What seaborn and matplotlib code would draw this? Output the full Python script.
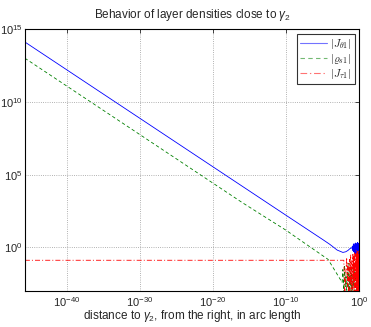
import pandas as pd
import seaborn as sns
import matplotlib.pyplot as plt
from matplotlib.lines import Line2D
from matplotlib.ticker import NullLocator

# |J_theta1|  (blue, solid)
x_j_theta = [1.8e-46, 1e-10, 1e-5, 1e-4, 1e-3, 6e-3, 1.5e-2, 3e-2, 6e-2, 0.09,
             0.10, 0.12, 0.14, 0.16, 0.18, 0.20, 0.23, 0.26, 0.29, 0.32, 0.35,
             0.38, 0.41, 0.44, 0.47, 0.50, 0.53, 0.56, 0.59, 0.62, 0.65, 0.68,
             0.71, 0.74, 0.77, 0.80, 0.83, 0.86, 0.89, 0.92, 0.95, 0.97, 0.99]
y_j_theta = [1.3e14, 160, 3.5, 1.6, 0.65, 0.45, 0.5, 0.62, 0.85, 0.9,
             0.9, 1.2, 0.6, 1.5, 0.5, 1.8, 0.4, 1.3, 0.7, 2.0, 0.35,
             1.6, 0.5, 1.1, 0.3, 1.9, 0.6, 1.4, 0.4, 2.2, 0.5, 0.9,
             1.7, 0.3, 1.2, 0.8, 1.9, 0.45, 1.5, 0.6, 1.1, 0.7, 0.9]

# |rho_s1|  (green, dashed)
x_rho_s = [1.8e-46, 1e-16, 1e-10, 1e-8, 5.6e-5, 1e-3, 4.7e-3,
           0.006, 0.008, 0.01, 0.013, 0.016, 0.02, 0.025, 0.03, 0.04, 0.05,
           0.06, 0.08, 0.1, 0.12, 0.15, 0.18, 0.22, 0.26, 0.3, 0.4, 0.5,
           0.6, 0.7, 0.8, 0.9, 0.97]
y_rho_s = [1e13, 1.2e3, 15, 3.0, 0.15, 0.014, 3.9e-3,
           0.03, 8e-4, 0.06, 2e-3, 0.01, 5e-4, 0.04, 1.5e-3, 0.08, 6e-4,
           0.02, 1e-3, 0.05, 4e-4, 0.012, 2e-3, 0.03, 6e-4, 0.01, 3e-3, 5e-4,
           0.02, 8e-4, 0.01, 6e-4, 4e-3]

# |J_tau1|  (red, dash-dot)
x_j_tau = [1.8e-46, 8e-3, 1.1e-2, 1.5e-2, 2e-2, 2.5e-2, 0.03, 0.04, 0.05,
           0.06, 0.07, 0.08, 0.1, 0.12, 0.14, 0.16, 0.18, 0.2, 0.23, 0.26,
           0.29, 0.32, 0.35, 0.38, 0.41, 0.44, 0.47, 0.5, 0.54, 0.58, 0.62,
           0.66, 0.7, 0.74, 0.78, 0.82, 0.86, 0.9, 0.93, 0.96, 0.98, 0.995]
y_j_tau = [0.13, 0.13, 5e-4, 0.02, 0.2, 2e-3, 0.08, 6e-4, 0.15,
           3e-3, 0.3, 1e-3, 0.12, 5e-4, 0.4, 4e-3, 0.25, 8e-4, 0.5, 2e-3,
           0.15, 5e-4, 0.35, 6e-3, 0.6, 1e-3, 0.2, 4e-4, 0.45, 3e-3, 0.3,
           7e-4, 0.55, 2e-3, 0.25, 5e-4, 0.4, 1e-3, 0.3, 6e-4, 0.2, 0.1]

x_ticks = [1e-40, 1e-30, 1e-20, 1e-10, 1]
y_ticks = [1, 1e5, 1e10, 1e15]

sns.set_style("white")
plt.rcParams['font.family'] = ['Liberation Sans', 'DejaVu Sans']
plt.rcParams['mathtext.fontset'] = 'custom'
plt.rcParams['mathtext.rm'] = 'Liberation Sans'
plt.rcParams['mathtext.it'] = 'Liberation Sans:italic'
plt.rcParams['mathtext.bf'] = 'Liberation Sans:bold'

fig = plt.figure(figsize=(3.71, 3.27), dpi=100)
ax = fig.add_axes([0.067, 0.110, 0.901, 0.801])

series = [
    (x_j_theta, y_j_theta, '#0000ff', '-', r'$|J_{\theta 1}|$'),
    (x_rho_s, y_rho_s, '#008000', (0, (4, 3)), r'$|\varrho_{s1}|$'),
    (x_j_tau, y_j_tau, '#ff0000', (0, (6, 2.5, 1.2, 2.5)), r'$|J_{\tau 1}|$'),
]
handles = []
for xs, ys, col, ls, lab in series:
    df = pd.DataFrame({'x': xs, 'y': ys})
    sns.lineplot(data=df, x='x', y='y', ax=ax, color=col, linestyle=ls,
                 linewidth=0.6, estimator=None, sort=False)
    handles.append(Line2D([], [], color=col, linestyle=ls, linewidth=0.8,
                          alpha=0.55, label=lab))

ax.set_xscale('log')
ax.set_yscale('log')
ax.set_xlim(1.8e-46, 1)
ax.set_ylim(1e-3, 1e15)
ax.set_xticks(x_ticks)
ax.set_yticks(y_ticks)
ax.xaxis.set_minor_locator(NullLocator())
ax.yaxis.set_minor_locator(NullLocator())
ax.tick_params(direction='in', length=3, width=0.6, labelsize=8,
               top=True, right=True)
ax.tick_params(axis='y', pad=1.5)
ax.tick_params(axis='x', pad=3)
ax.grid(True, which='major', linestyle=':', color='0.6', linewidth=0.6)
for s in ax.spines.values():
    s.set_color('black')
    s.set_linewidth(0.8)

ax.set_title(r'Behavior of layer densities close to $\gamma_2$',
             fontsize=8.5, pad=8)
ax.set_xlabel(r'distance to $\gamma_2$, from the right, in arc length',
              fontsize=8.5, labelpad=-1)
ax.set_ylabel('')

leg = ax.legend(handles=handles, loc='upper right', frameon=True,
                fancybox=False, prop={'size': 8, 'math_fontfamily': 'cm'},
                handlelength=2.4, handletextpad=0.3, borderpad=0.3,
                labelspacing=0.1, borderaxespad=0.4)
leg.get_frame().set_edgecolor('black')
leg.get_frame().set_linewidth(0.8)

fig.savefig('out.png', dpi=100)
